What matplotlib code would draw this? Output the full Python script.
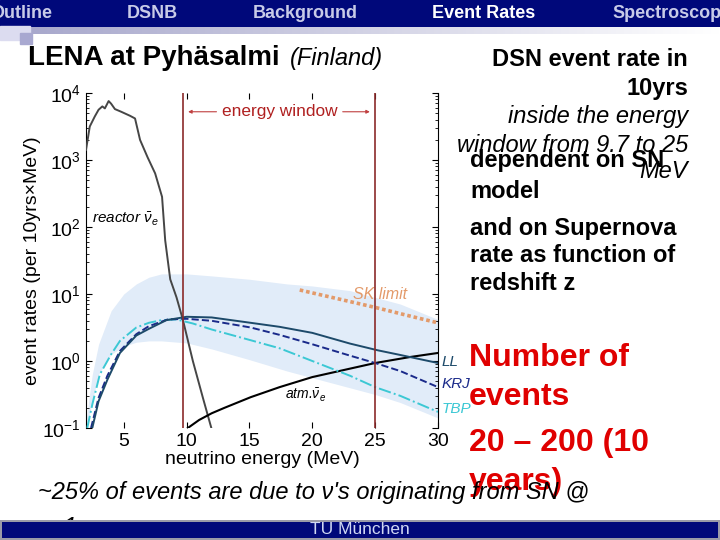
"""
LENA slajd - DSN event rates u energetskom prozoru
"""

import numpy as np
import matplotlib
matplotlib.use("Agg")
import matplotlib.pyplot as plt
from matplotlib.patches import Rectangle

plt.rcParams['font.family'] = ['Liberation Sans', 'DejaVu Sans']
plt.rcParams['mathtext.fontset'] = 'custom'
plt.rcParams['mathtext.rm'] = 'Liberation Sans'
plt.rcParams['mathtext.it'] = 'Liberation Sans:italic'

# podaci (log10 vrijednosti ocitane sa slike)
reactor_e = [2.0, 2.3, 2.7, 3.0, 3.3, 3.5, 3.8, 4.0, 4.3, 4.8, 5.5, 5.9, 6.3,
             6.9, 7.5, 8.05, 8.3, 8.7, 9.2, 9.7, 10.5, 11.3, 12.0]
reactor_log = [3.15, 3.5, 3.65, 3.75, 3.8, 3.77, 3.88, 3.84, 3.76, 3.72, 3.66,
               3.62, 3.3, 3.04, 2.8, 2.45, 1.8, 1.22, 0.95, 0.62, 0.0, -0.55, -1.02]

band_e = [2.0, 2.5, 3.0, 4.0, 5.0, 6.0, 7.0, 8.0, 10.0, 12.0, 15.0, 18.0, 20.0,
          23.0, 25.0, 27.0, 30.0]
band_hi = [-0.9, -0.2, 0.25, 0.75, 1.0, 1.15, 1.25, 1.3, 1.3, 1.27, 1.22, 1.15,
           1.12, 1.05, 0.95, 0.85, 0.62]
band_lo = [-1.05, -0.6, -0.2, 0.1, 0.22, 0.28, 0.3, 0.3, 0.27, 0.18, 0.02, -0.15,
           -0.25, -0.4, -0.5, -0.62, -0.85]

ll_e = [2.5, 3.0, 3.7, 4.7, 6.0, 7.0, 8.4, 10.0, 12.0, 15.1, 17.4, 20.0, 23.0, 25.2, 27.0, 30.0]
ll_log = [-1.0, -0.6, -0.28, 0.12, 0.38, 0.48, 0.61, 0.66, 0.65, 0.57, 0.51, 0.42,
          0.26, 0.16, 0.09, -0.03]

krj_e = [2.4, 3.0, 3.7, 4.7, 6.0, 7.0, 8.5, 10.0, 12.0, 15.1, 17.4, 20.0, 23.0, 25.0, 27.0, 30.0]
krj_log = [-1.0, -0.55, -0.22, 0.15, 0.4, 0.52, 0.62, 0.63, 0.6, 0.5, 0.39, 0.25,
           0.08, -0.03, -0.15, -0.39]

tbp_e = [2.1, 2.5, 3.1, 4.0, 4.7, 6.0, 7.0, 8.0, 9.2, 10.5, 12.0, 15.1, 17.4, 20.0,
         23.0, 25.0, 27.0, 30.0]
tbp_log = [-1.0, -0.65, -0.2, 0.1, 0.3, 0.5, 0.57, 0.61, 0.62, 0.56, 0.47, 0.31,
           0.19, 0.0, -0.22, -0.39, -0.52, -0.76]

atm_e = [10.1, 11.0, 12.0, 13.0, 15.1, 17.4, 20.0, 25.0, 27.8, 30.0]
atm_log = [-1.0, -0.88, -0.78, -0.7, -0.54, -0.39, -0.24, -0.03, 0.06, 0.12]

sk_e = [19.0, 22.0, 25.0, 28.0, 30.0]
sk_log = [1.06, 0.93, 0.80, 0.66, 0.57]

prozor = [9.7, 25.0]
x_ticks = [5, 10, 15, 20, 25, 30]

navy = '#00087a'
crvena = '#e00000'


def p(v):
    return 10 ** np.array(v)


fig = plt.figure(figsize=(7.2, 5.4), dpi=100)

# pozadina slajda u pikselima
bg = fig.add_axes([0, 0, 1, 1], zorder=0)
bg.set_xlim(0, 720)
bg.set_ylim(540, 0)
bg.axis('off')

bg.add_patch(Rectangle((0, 0), 720, 26, color=navy, zorder=1))
grad = np.linspace(0, 1, 256)[None, :]
bg.imshow(grad, extent=(30, 720, 34, 27), cmap=matplotlib.colors.LinearSegmentedColormap.from_list(
    'g', ['#a8a8cc', '#ffffff']), aspect='auto', zorder=1)
bg.add_patch(Rectangle((0, 26), 30, 14, color='#dcdcf0', zorder=1))
bg.add_patch(Rectangle((20, 33), 12, 11, color='#a8a8d0', zorder=2))

meni_boja = '#c8cbe8'
bg.text(52, 13, 'Outline', color=meni_boja, fontsize=13, fontweight='bold',
        ha='right', va='center', zorder=3)
bg.text(152, 13, 'DSNB', color=meni_boja, fontsize=13, fontweight='bold',
        ha='center', va='center', zorder=3)
bg.text(305, 13, 'Background', color=meni_boja, fontsize=13, fontweight='bold',
        ha='center', va='center', zorder=3)
bg.text(484, 13, 'Event Rates', color='white', fontsize=13, fontweight='bold',
        ha='center', va='center', zorder=3)
bg.text(612, 13, 'Spectroscopy', color=meni_boja, fontsize=13, fontweight='bold',
        ha='left', va='center', zorder=3)

bg.text(28, 58, 'LENA at Pyhäsalmi', fontsize=20, fontweight='bold', va='center')
bg.text(290, 59, '(Finland)', fontsize=17, style='italic', va='center')

fs = 17
bg.text(688, 60, 'DSN event rate in', fontsize=fs, fontweight='bold', ha='right', va='center')
bg.text(688, 88, '10yrs', fontsize=fs, fontweight='bold', ha='right', va='center')
bg.text(688, 117, 'inside the energy', fontsize=fs, style='italic', ha='right', va='center')
bg.text(688, 145, 'window from 9.7 to 25', fontsize=fs, style='italic', ha='right', va='center')
bg.text(688, 171, 'MeV', fontsize=fs, style='italic', ha='right', va='center')
bg.text(470, 161, 'dependent on SN', fontsize=fs, fontweight='bold', va='center')
bg.text(470, 191, 'model', fontsize=fs, fontweight='bold', va='center')
bg.text(470, 229, 'and on Supernova', fontsize=fs, fontweight='bold', va='center')
bg.text(470, 256, 'rate as function of', fontsize=fs, fontweight='bold', va='center')
bg.text(470, 284, 'redshift z', fontsize=fs, fontweight='bold', va='center')

for txt, yc in [('Number of', 358), ('events', 397), ('20 – 200 (10', 443), ('years)', 482)]:
    bg.text(469, yc, txt, fontsize=23, fontweight='bold', color=crvena, va='center', zorder=3)

bg.text(38, 493, "~25% of events are due to ν's originating from SN @", fontsize=17,
        style='italic', va='center', zorder=4)
bg.text(38, 527, 'z>1', fontsize=17, style='italic', va='center', zorder=4)

bg.add_patch(Rectangle((0, 520), 720, 20, facecolor='#9a9aa8', zorder=5))
bg.add_patch(Rectangle((2, 522), 716, 16, facecolor=navy, zorder=6))
bg.text(360, 530, 'TU München', color='#d0d8f4', fontsize=12.5, ha='center', va='center', zorder=7)

# grafik
ax = fig.add_axes([86 / 720, 1 - 428 / 540, 352 / 720, 335 / 540], zorder=2)
ax.patch.set_alpha(0)
ax.set_yscale('log')
ax.set_xlim(2, 30)
ax.set_ylim(0.1, 1e4)

ax.fill_between(band_e, p(band_lo), p(band_hi), color='#e1ecf9', lw=0, zorder=1)
ax.plot(sk_e, p(sk_log), color='#e39a6a', ls=(0, (1, 0.8)), lw=2.6, zorder=2)
ax.plot(reactor_e, p(reactor_log), color='#464646', lw=1.4, zorder=3)
ax.plot(atm_e, p(atm_log), color='black', lw=1.5, zorder=3)
ax.plot(tbp_e, p(tbp_log), color='#3cc8d4', ls='-.', lw=1.4, zorder=4)
ax.plot(krj_e, p(krj_log), color='#1a2a8a', ls='--', lw=1.4, zorder=4)
ax.plot(ll_e, p(ll_log), color='#1d4a6a', lw=1.4, zorder=4)

for e in prozor:
    ax.axvline(e, color='#8b2a2a', lw=1.2, zorder=5)

y_arr = 10 ** 3.72
ax.annotate('', xy=(prozor[0] + 0.2, y_arr), xytext=(12.6, y_arr),
            arrowprops=dict(arrowstyle='-|>', color='#c04040', lw=0.8, mutation_scale=5))
ax.annotate('', xy=(prozor[1] - 0.2, y_arr), xytext=(22.2, y_arr),
            arrowprops=dict(arrowstyle='-|>', color='#c04040', lw=0.8, mutation_scale=5))
ax.text(17.4, y_arr, 'energy window', color='#b02020', fontsize=12.4, ha='center', va='center')

ax.text(2.5, 10 ** 2.12, r'reactor $\bar{\nu}_e$', fontsize=11, style='italic', va='center')
ax.text(17.8, 10 ** -0.52, r'atm.$\bar{\nu}_e$', fontsize=10, style='italic', va='center')
ax.text(23.2, 10 ** 1.0, 'SK limit', fontsize=11.5, style='italic', color='#e39a6a', va='center')
ax.text(30.3, 10 ** -0.02, 'LL', fontsize=11, style='italic', color='#1d4a6a', va='center', clip_on=False)
ax.text(30.3, 10 ** -0.35, 'KRJ', fontsize=11, style='italic', color='#1a2a8a', va='center', clip_on=False)
ax.text(30.3, 10 ** -0.71, 'TBP', fontsize=11, style='italic', color='#3cc8d4', va='center', clip_on=False)

ax.set_xticks(x_ticks)
ax.tick_params(axis='both', which='both', direction='in', top=True, right=True, labelsize=14)
ax.tick_params(axis='both', which='major', length=4)
ax.tick_params(axis='both', which='minor', length=2)
ax.spines['top'].set_visible(False)
ax.spines['bottom'].set_visible(False)
ax.set_xlabel('neutrino energy (MeV)', fontsize=14, labelpad=1)
ax.set_ylabel('event rates (per 10yrs×MeV)', fontsize=14, labelpad=1)

plt.savefig('out.png', dpi=100)
